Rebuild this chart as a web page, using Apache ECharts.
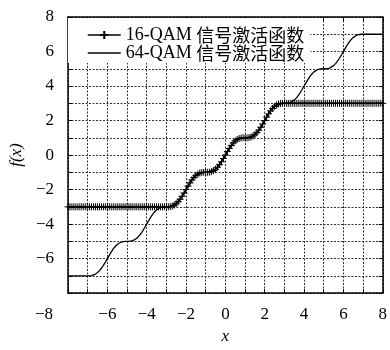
<!DOCTYPE html>
<html><head><meta charset="utf-8">
<script src="https://cdn.jsdelivr.net/npm/echarts@6/dist/echarts.min.js"></script>
<style>html,body{margin:0;background:#fff}#c{width:390px;height:350px}</style>
</head><body><div id="c"></div>
<script>
const seriesNames = ['16-QAM 信号激活函数', '64-QAM 信号激活函数'];
const xTicks = [-8, -6, -4, -2, 0, 2, 4, 6, 8];
const yTicks = [-6, -4, -2, 0, 2, 4, 6, 8];
const xs = [
 -8,-7.9,-7.8,-7.7,-7.6,-7.5,-7.4,-7.3,-7.2,-7.1,
 -7,-6.9,-6.8,-6.7,-6.6,-6.5,-6.4,-6.3,-6.2,-6.1,
 -6,-5.9,-5.8,-5.7,-5.6,-5.5,-5.4,-5.3,-5.2,-5.1,
 -5,-4.9,-4.8,-4.7,-4.6,-4.5,-4.4,-4.3,-4.2,-4.1,
 -4,-3.9,-3.8,-3.7,-3.6,-3.5,-3.4,-3.3,-3.2,-3.1,
 -3,-2.9,-2.8,-2.7,-2.6,-2.5,-2.4,-2.3,-2.2,-2.1,
 -2,-1.9,-1.8,-1.7,-1.6,-1.5,-1.4,-1.3,-1.2,-1.1,
 -1,-0.9,-0.8,-0.7,-0.6,-0.5,-0.4,-0.3,-0.2,-0.1,
 0,0.1,0.2,0.3,0.4,0.5,0.6,0.7,0.8,0.9,
 1,1.1,1.2,1.3,1.4,1.5,1.6,1.7,1.8,1.9,
 2,2.1,2.2,2.3,2.4,2.5,2.6,2.7,2.8,2.9,
 3,3.1,3.2,3.3,3.4,3.5,3.6,3.7,3.8,3.9,
 4,4.1,4.2,4.3,4.4,4.5,4.6,4.7,4.8,4.9,
 5,5.1,5.2,5.3,5.4,5.5,5.6,5.7,5.8,5.9,
 6,6.1,6.2,6.3,6.4,6.5,6.6,6.7,6.8,6.9,
 7,7.1,7.2,7.3,7.4,7.5,7.6,7.7,7.8,7.9,
 8
];
const y16 = [
 -3,-3,-3,-3,-3,-3,-3,-3,-3,-3,
 -3,-3,-3,-3,-3,-3,-3,-3,-3,-3,
 -3,-3,-3,-3,-3,-3,-3,-3,-3,-3,
 -3,-3,-3,-3,-3,-3,-3,-3,-3,-3,
 -3,-3,-3,-3,-3,-3,-3,-3,-3,-3,
 -3,-3,-2.99,-2.96,-2.9,-2.82,-2.7,-2.56,-2.39,-2.2,
 -2,-1.8,-1.61,-1.44,-1.3,-1.18,-1.1,-1.04,-1.01,-1,
 -1,-1,-0.99,-0.96,-0.9,-0.82,-0.7,-0.56,-0.39,-0.2,
 0,0.2,0.39,0.56,0.7,0.82,0.9,0.96,0.99,1,
 1,1,1.01,1.04,1.1,1.18,1.3,1.44,1.61,1.8,
 2,2.2,2.39,2.56,2.7,2.82,2.9,2.96,2.99,3,
 3,3,3,3,3,3,3,3,3,3,
 3,3,3,3,3,3,3,3,3,3,
 3,3,3,3,3,3,3,3,3,3,
 3,3,3,3,3,3,3,3,3,3,
 3,3,3,3,3,3,3,3,3,3,
 3
];
const y64 = [
 -7,-7,-7,-7,-7,-7,-7,-7,-7,-7,
 -7,-7,-6.99,-6.96,-6.9,-6.82,-6.7,-6.56,-6.39,-6.2,
 -6,-5.8,-5.61,-5.44,-5.3,-5.18,-5.1,-5.04,-5.01,-5,
 -5,-5,-4.99,-4.96,-4.9,-4.82,-4.7,-4.56,-4.39,-4.2,
 -4,-3.8,-3.61,-3.44,-3.3,-3.18,-3.1,-3.04,-3.01,-3,
 -3,-3,-2.99,-2.96,-2.9,-2.82,-2.7,-2.56,-2.39,-2.2,
 -2,-1.8,-1.61,-1.44,-1.3,-1.18,-1.1,-1.04,-1.01,-1,
 -1,-1,-0.99,-0.96,-0.9,-0.82,-0.7,-0.56,-0.39,-0.2,
 0,0.2,0.39,0.56,0.7,0.82,0.9,0.96,0.99,1,
 1,1,1.01,1.04,1.1,1.18,1.3,1.44,1.61,1.8,
 2,2.2,2.39,2.56,2.7,2.82,2.9,2.96,2.99,3,
 3,3,3.01,3.04,3.1,3.18,3.3,3.44,3.61,3.8,
 4,4.2,4.39,4.56,4.7,4.82,4.9,4.96,4.99,5,
 5,5,5.01,5.04,5.1,5.18,5.3,5.44,5.61,5.8,
 6,6.2,6.39,6.56,6.7,6.82,6.9,6.96,6.99,7,
 7,7,7,7,7,7,7,7,7,7,
 7
];

const serif = 'Liberation Serif';
function fmtNum(v){ return v < 0 ? '\u2212' + Math.abs(v) : String(v); }
const chart = echarts.init(document.getElementById('c'), null, {renderer:'canvas'});
const gridLine = {show:true, lineStyle:{color:'#333', type:[2,1.5], width:1}};
const plusPath = 'path://M0,5L10,5M5,0L5,10';
chart.setOption({
  animation:false,
  backgroundColor:'#fff',
  grid:{left:68, right:3, top:17, bottom:49},
  legend:{
    orient:'vertical', left:68, top:18,
    padding:[8,6,1,19], itemGap:0, itemWidth:33, itemHeight:10,
    backgroundColor:'#fff', selectedMode:false,
    data:[
      {name:seriesNames[0], lineStyle:{width:1.3, color:'#000'}},
      {name:seriesNames[1], lineStyle:{width:1.5, color:'#000', opacity:1}, itemStyle:{opacity:0}}
    ],
    formatter:function(n){ const p=n.split(' '); return '{a|'+p[0]+' }{b|'+p[1]+'}'; },
    textStyle:{color:'#000', rich:{
      a:{fontFamily:serif, fontSize:18, color:'#000', lineHeight:18},
      b:{fontFamily:'Noto Sans CJK SC', fontSize:18, color:'#000', lineHeight:18}
    }}
  },
  xAxis:[{
    type:'value', min:-8, max:8, interval:1, position:'bottom',
    name:'x', nameLocation:'middle', nameGap:30,
    nameTextStyle:{fontFamily:serif, fontStyle:'italic', fontSize:17, color:'#000'},
    axisLine:{show:true, onZero:false, lineStyle:{color:'#000', width:1.5}},
    axisTick:{show:true, inside:true, length:4, lineStyle:{color:'#000'}},
    axisLabel:{margin:13, fontFamily:serif, fontSize:17, color:'#000',
      formatter:function(v){ if(xTicks.indexOf(v)<0) return ''; if(v===-8) return '{s|'+fmtNum(v)+'}'; return fmtNum(v); },
      rich:{s:{fontFamily:serif, fontSize:17, color:'#000', padding:[0,48,0,0]}}},
    splitLine:gridLine
  },{
    type:'value', min:-8, max:8, interval:1, position:'top',
    axisLine:{show:true, onZero:false, lineStyle:{color:'#000', width:1.5}},
    axisTick:{show:true, inside:true, length:4, lineStyle:{color:'#000'}},
    axisLabel:{show:false}, splitLine:{show:false}
  }],
  yAxis:[{
    type:'value', min:-8, max:8, interval:1, position:'left',
    name:'f(x)', nameLocation:'middle', nameGap:42, nameRotate:90,
    nameTextStyle:{fontFamily:serif, fontStyle:'italic', fontSize:17, color:'#000'},
    axisLine:{show:true, onZero:false, lineStyle:{color:'#000', width:1.5}},
    axisTick:{show:true, inside:true, length:4, lineStyle:{color:'#000'}},
    axisLabel:{margin:14, fontFamily:serif, fontSize:17, color:'#000',
      formatter:function(v){ return yTicks.indexOf(v)<0 ? '' : fmtNum(v); }},
    splitLine:gridLine
  },{
    type:'value', min:-8, max:8, interval:1, position:'right',
    axisLine:{show:true, onZero:false, lineStyle:{color:'#000', width:1.5}},
    axisTick:{show:true, inside:true, length:4, lineStyle:{color:'#000'}},
    axisLabel:{show:false}, splitLine:{show:false}
  }],
  series:[{
    name:seriesNames[0], type:'line',
    data:xs.map((x,i)=>[x,y16[i]]),
    symbol:plusPath, symbolSize:7, showSymbol:true,
    itemStyle:{color:'#000', borderColor:'#000', borderWidth:1},
    lineStyle:{color:'#000', width:1.2}, clip:false, z:3
  },{
    name:seriesNames[1], type:'line',
    data:xs.map((x,i)=>[x,y64[i]]),
    symbol:'none', showSymbol:false,
    itemStyle:{color:'#000'},
    lineStyle:{color:'#000', width:1.3}, z:2
  }]
});
</script></body></html>
